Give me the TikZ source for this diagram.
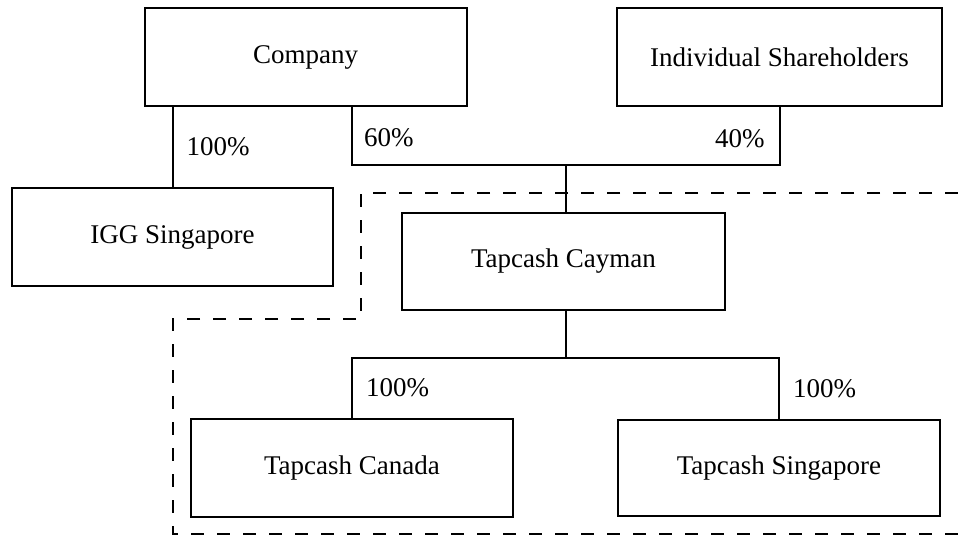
\documentclass[tikz,border=0pt]{standalone}
\usepackage{fontspec}
\setmainfont{Liberation Serif}
\usepackage{tikz}
\usetikzlibrary{positioning}

\tikzset{
	entity/.style={draw, line width=1pt, minimum width=161pt, minimum height=49pt, inner sep=0pt, font=\fontsize{13.5}{16}\selectfont},
	share/.style={inner sep=0pt, font=\fontsize{13.5}{16}\selectfont},
	link/.style={line width=1pt},
	group/.style={line width=1pt, dash pattern=on 6.5pt off 6.5pt}
}

\begin{document}
\begin{tikzpicture}[x=0.5pt,y=-0.5pt]
			\useasboundingbox (0,0) rectangle (958,536);
			
			\node[entity] (company) at (305.5,57) {Company};
			\node[entity, minimum width=162.5pt] (holders) at (779.5,57) {Individual Shareholders};
			\node[entity, minimum width=160.5pt] (igg) at (172.5,237) {IGG Singapore};
			\node[entity, minimum width=161.5pt, minimum height=48.5pt] (cayman) at (563.5,261.5) {Tapcash Cayman};
			\node[entity] (canada) at (352,468) {Tapcash Canada};
			\node[entity, minimum height=48pt] (tsing) at (779,468) {Tapcash Singapore};
			
			\coordinate (jtop) at (566,165);
			\coordinate (jbot) at (566,358);
			\coordinate (owner) at (company.south -| canada.north);
			
			\draw[link] (company.south -| igg.north) -- node[share, right=6.5pt] {100\%} (igg.north);
			\draw[link] (owner) -- node[share, right=5.5pt, yshift=-1pt] {60\%} (owner |- jtop) -- (jtop);
			\draw[link] (holders.south) -- node[share, left=7pt, yshift=-1.5pt] {40\%} (holders.south |- jtop) -- (jtop);
			\draw[link] (jtop) -- (jtop |- cayman.north);
			\draw[link] (jtop |- cayman.south) -- (jbot);
			\draw[link] (canada.north) -- node[share, right=6.5pt] {100\%} (canada.north |- jbot) -- (jbot);
			\draw[link] (tsing.north) -- node[share, right=6.5pt] {100\%} (tsing.north |- jbot) -- (jbot);
			
			\draw[group] (958,193) -- (361,193) -- (361,319) -- (173,319) -- (173,534) -- (958,534);
\end{tikzpicture}
\end{document}
